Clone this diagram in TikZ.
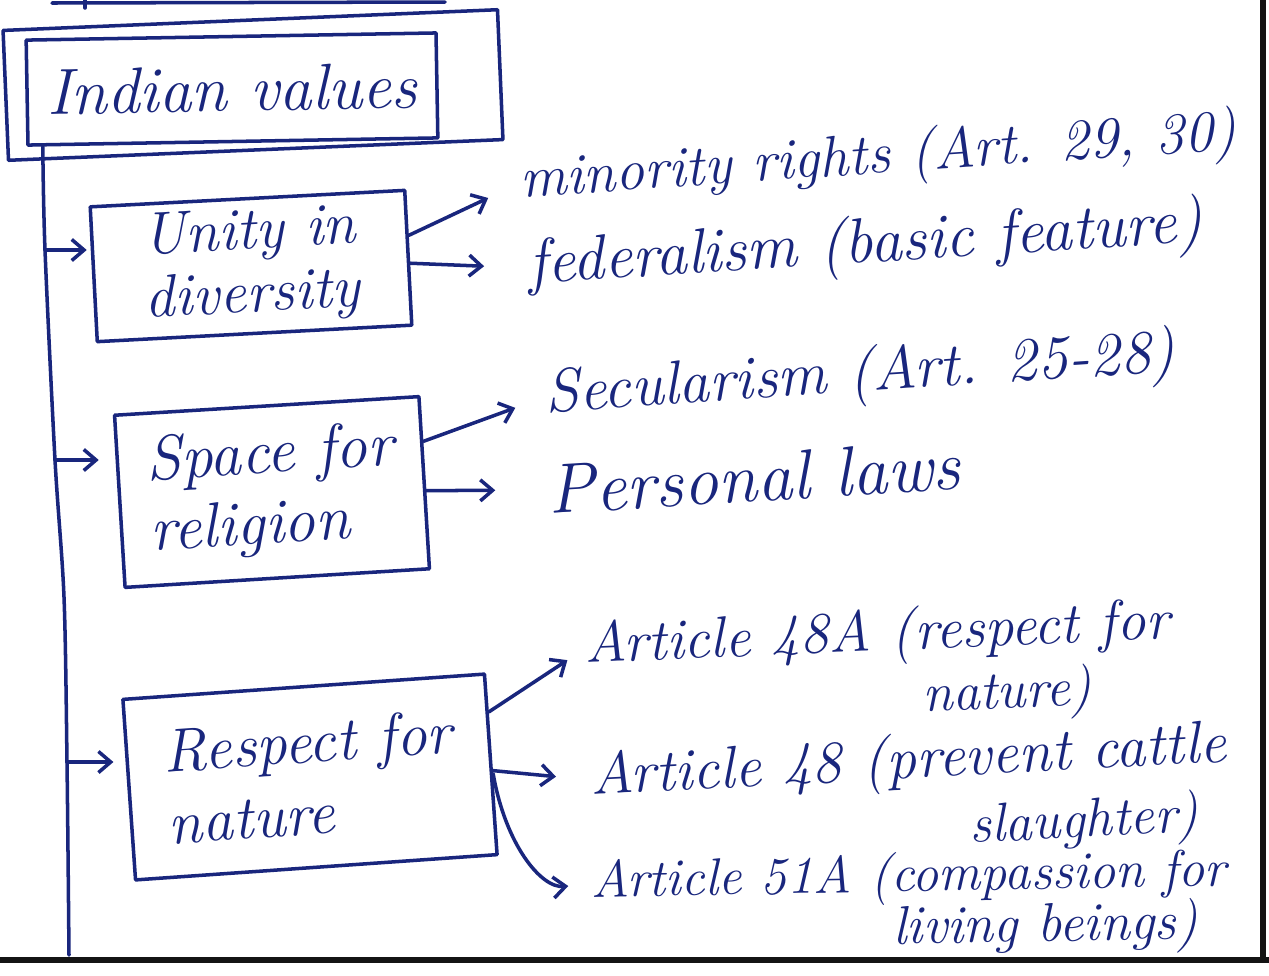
\documentclass[tikz,border=0pt]{standalone}
\usetikzlibrary{arrows.meta,calc}
\definecolor{ink}{RGB}{25,38,125}
\definecolor{rulecol}{RGB}{20,20,20}
\newcommand\lf[1]{\fontsize{#1}{#1}\selectfont\itshape}
\newcommand\titlefont{\fontsize{37}{42}\selectfont\itshape}
\newcommand\unityfont{\fontsize{34}{36}\selectfont\itshape}
\newcommand\spacefont{\fontsize{36}{40}\selectfont\itshape}
\newcommand\respfont{\fontsize{35}{41}\selectfont\itshape}
% first line, extra gap, indent of second line, second line
\newcommand\twoline[4]{\begin{tabular}[t]{@{}l@{}}#1\\[#2]\hspace*{#3}{\lf{31}#4}\end{tabular}}
\tikzset{
  pen/.style={draw=ink, line width=2pt, line cap=round, line join=round},
  hbox/.style={pen, rectangle, inner sep=0pt, text=ink},
  leaf/.style={text=ink, font=\lf{32}, anchor=west, inner sep=0pt},
  leaftwo/.style={text=ink, anchor=base west, inner sep=0pt},
  arr/.style={pen, -{Straight Barb[length=7pt,width=12pt]}},
  border/.style={draw=rulecol, line width=3.4pt},
}
\begin{document}
\begin{tikzpicture}[x=0.02cm,y=-0.02cm]
\useasboundingbox (0,0) rectangle (1269,975);
\fill[white] (0,0) rectangle (1269,975);

% fragment of the box above
\draw[pen] (52,3) -- (445,2);
\draw[pen] (85,0) -- (85,8);

% title boxes
\node[hbox, rotate=2.4, minimum width=9.9cm, minimum height=2.6cm] (ivout) at (253,85) {};
\node[hbox, rotate=1, minimum width=8.2cm, minimum height=2.1cm, font=\titlefont] (iv) at (232,89) {Indian values};

% category boxes
\node[hbox, rotate=3, minimum width=6.3cm, minimum height=2.7cm, align=center, font=\unityfont] (unity) at (251,266) {Unity in\\diversity};
\node[hbox, rotate=3.5, minimum width=6.1cm, minimum height=3.45cm, align=left, font=\spacefont] (space) at (272,492) {Space for\\religion};
\node[hbox, rotate=4, minimum width=7.25cm, minimum height=3.62cm, align=left, font=\respfont] (resp) at (310,777) {Respect for\\nature};

% trunk
\coordinate (t0) at ($(iv.south west)!0.04!(iv.south east)$);
\coordinate (t1) at (45,250);
\coordinate (t2) at (55,460);
\coordinate (t3) at (64,597);
\coordinate (t4) at (67,762);
\coordinate (t5) at (69,955);
\draw[pen] plot[smooth, tension=0.5] coordinates {(t0) (t1) (t2) (t3) (t4) (t5)};

\draw[arr, shorten >=3pt] (t1) -- (t1 -| unity.west);
\draw[arr, shorten >=11pt] (t2) -- (t2 -| space.west);
\draw[arr, shorten >=8pt] (t4) -- (t4 -| resp.west);

% leaves
\node[leaf, rotate=3.9, font=\lf{33}] (minr) at (520,183) {minority rights (Art. 29, 30)};
\node[leaf, rotate=3.6, font=\lf{36}] (fed) at (528,268) {federalism (basic feature)};
\node[leaf, rotate=3.8, font=\lf{35}] (sec) at (545,397) {Secularism (Art. 25-28)};
\node[leaf, rotate=3.5, font=\lf{40}] (pers) at (548,490) {Personal laws};
\node[leaftwo, rotate=2.4, font=\lf{33}] (a48a) at (585,663)
  {\twoline{Article 48A (respect for}{2.7pt}{6.71cm}{nature)}};
\node[leaftwo, rotate=3, font=\lf{34}] (a48) at (591,795)
  {\twoline{Article 48 (prevent cattle}{4.5pt}{7.52cm}{slaughter)}};
\node[leaftwo, rotate=1, font=\lf{30}] (a51a) at (591,897)
  {\twoline{Article 51A (compassion for}{-2.5pt}{6.02cm}{living beings)}};

% connectors
\draw[arr, shorten >=20pt] (unity.8) -- (minr.west);
\draw[arr, shorten >=25pt] (unity.358) -- (fed.west);
\draw[arr, shorten >=18pt] (space.15) -- (sec.west);
\draw[arr, shorten >=30pt] (space.357) -- (pers.west);
\draw[arr, shorten >=12pt] (resp.16) -- ([yshift=0.29cm]a48a.base west);
\draw[arr, shorten >=20pt] (resp.358) -- ([yshift=0.30cm]a48.base west);
\draw[arr, shorten >=13pt] (resp.357) .. controls +(12,70) and +(-50,5) .. ([yshift=0.265cm]a51a.base west);

% page rules
\draw[border] (1263,0) -- (1263,960);
\draw[border] (0,960) -- (1269,960);
\end{tikzpicture}
\end{document}
